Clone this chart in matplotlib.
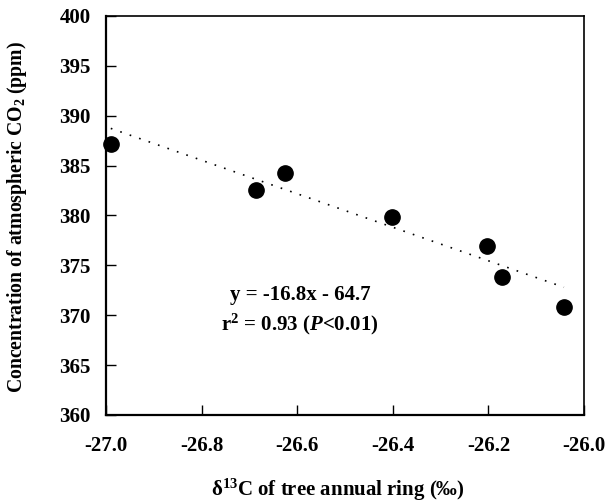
import matplotlib
matplotlib.use("Agg")
import matplotlib.pyplot as plt
import numpy as np

plt.rcParams['font.family'] = ['Liberation Serif', 'DejaVu Serif']
plt.rcParams['font.weight'] = 'bold'
plt.rcParams['mathtext.fontset'] = 'custom'
plt.rcParams['mathtext.rm'] = 'Liberation Serif:bold'
plt.rcParams['mathtext.bf'] = 'Liberation Serif:bold'
plt.rcParams['mathtext.it'] = 'Liberation Serif:italic:bold'

# data
delta13C = [-26.99, -26.687, -26.626, -26.402, -26.202, -26.171, -26.042]
co2 = [387.2, 382.6, 384.3, 379.8, 376.9, 373.8, 370.8]
slope = -16.8
intercept = -64.7
x_ticks = [-27.0, -26.8, -26.6, -26.4, -26.2, -26.0]
y_ticks = [360, 365, 370, 375, 380, 385, 390, 395, 400]

fig = plt.figure(figsize=(6.05, 5.03), dpi=100)
ax = fig.add_axes([106/605, 1-415/503, (584-106)/605, (415-16)/503])

xl = np.array([min(delta13C), max(delta13C)])
ax.plot(xl, slope * xl + intercept, color='black', linestyle=(0, (1, 5)), linewidth=1.2, zorder=2)
ax.scatter(delta13C, co2, s=11**2, color='black', zorder=3, clip_on=False)

ax.set_xlim(-27.0, -26.0)
ax.set_ylim(360, 400)
ax.set_xticks(x_ticks)
ax.set_xticklabels([f"{v:.1f}" for v in x_ticks])
ax.set_yticks(y_ticks)
ax.tick_params(axis='both', direction='in', length=7, width=1, labelsize=15)
ax.tick_params(axis='y', pad=11)
ax.tick_params(axis='x', pad=15)
ax.tick_params(top=False, right=False)

for s in ['left', 'bottom']:
    ax.spines[s].set_linewidth(1.6)
for s in ['top', 'right']:
    ax.spines[s].set_linewidth(1.2)

fig.text(338/605, 1-490/503, "δ$^{13}$C of tree annual ring (‰)", fontsize=15, fontweight='bold',
         ha='center', va='center')
fig.text(17/605, 1-217/503, "Concentration of atmospheric CO$_2$ (ppm)", fontsize=14.2, fontweight='bold',
         ha='center', va='center', rotation=90)

ax.text(-26.594, 372.0, "y = -16.8x - 64.7", ha='center', va='center', fontsize=15, fontweight='bold')
ax.text(-26.594, 369.1, "r$^2$ = 0.93 ($P$<0.01)", ha='center', va='center', fontsize=15, fontweight='bold')

fig.savefig("out.png", dpi=100)
